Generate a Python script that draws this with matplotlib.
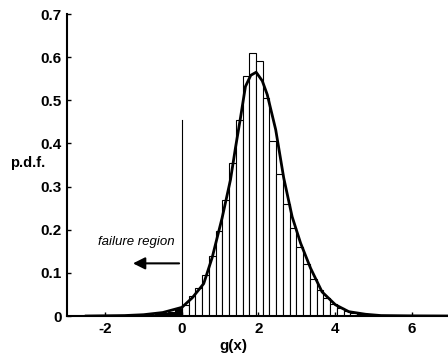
import numpy as np
import matplotlib
matplotlib.use("Agg")
import matplotlib.pyplot as plt

plt.rcParams["font.family"] = ["Liberation Sans", "DejaVu Sans"]
plt.rcParams["axes.unicode_minus"] = False

# histogram: left bin edges (width 0.176) and bar heights
bin_width = 0.176
bin_left = [-2.464, -2.288, -2.112, -1.936, -1.760, -1.584, -1.408, -1.232, -1.056, -0.880,
            -0.704, -0.528, -0.352, -0.176, 0.000, 0.176, 0.352, 0.528, 0.704, 0.880,
            1.056, 1.232, 1.408, 1.584, 1.760, 1.936, 2.112, 2.288, 2.464, 2.640,
            2.816, 2.992, 3.168, 3.344, 3.520, 3.696, 3.872, 4.048, 4.224, 4.400,
            4.576, 4.752, 4.928, 5.104, 5.280, 5.456, 5.632, 5.808, 5.984, 6.160]
bar_height = [0.0, 0.0, 0.0, 0.001, 0.0, 0.001, 0.001, 0.002, 0.002, 0.003,
              0.005, 0.007, 0.010, 0.016, 0.025, 0.046, 0.066, 0.095, 0.140, 0.196,
              0.268, 0.355, 0.455, 0.556, 0.610, 0.592, 0.506, 0.405, 0.330, 0.260,
              0.205, 0.160, 0.120, 0.085, 0.060, 0.042, 0.028, 0.018, 0.011, 0.007,
              0.004, 0.003, 0.002, 0.001, 0.0005, 0.0003, 0.0003, 0.0, 0.0, 0.0]

# fitted p.d.f. curve
curve_x = [-2.5, -2.0, -1.5, -1.0, -0.5, 0.0, 0.27, 0.57, 0.79, 1.05, 1.27, 1.40, 1.53,
           1.66, 1.80, 1.94, 2.10, 2.23, 2.45, 2.66, 2.88, 3.10, 3.36, 3.66, 4.01, 4.36,
           4.80, 5.20, 6.00, 7.00]
curve_y = [0.0, 0.0005, 0.001, 0.003, 0.008, 0.020, 0.042, 0.075, 0.135, 0.227, 0.316,
           0.390, 0.459, 0.532, 0.558, 0.565, 0.545, 0.513, 0.432, 0.320, 0.230, 0.169,
           0.111, 0.056, 0.026, 0.010, 0.004, 0.001, 0.0003, 0.0]

fig = plt.figure(figsize=(4.48, 3.56), dpi=100)
ax = fig.add_axes([67 / 448, 40 / 356, 381 / 448, 302 / 356])

colors = ["black" if x < 0 else "white" for x in bin_left]
ax.bar(bin_left, bar_height, width=bin_width, align="edge",
       color=colors, edgecolor="black", linewidth=0.8)
ax.plot(curve_x, curve_y, color="black", lw=2.0)

# failure region marker
ax.plot([0, 0], [0, 0.455], color="black", lw=0.8)
ax.annotate("", xy=(-1.35, 0.122), xytext=(0, 0.122),
            arrowprops=dict(arrowstyle="-|>", color="black", lw=1.5,
                            mutation_scale=18))
ax.text(-0.18, 0.172, "failure region", style="italic", fontsize=9.5,
        ha="right", va="center")

ax.set_xlim(-3, 6.95)
ax.set_ylim(0, 0.7)
ax.set_xticks([-2, 0, 2, 4, 6])
ax.set_yticks([0, 0.1, 0.2, 0.3, 0.4, 0.5, 0.6, 0.7])
ax.set_yticklabels(["0", "0.1", "0.2", "0.3", "0.4", "0.5", "0.6", "0.7"])
ax.tick_params(direction="in", length=3, width=1, labelsize=11, pad=4)
for lbl in ax.get_xticklabels() + ax.get_yticklabels():
    lbl.set_fontweight("bold")
for side in ["top", "right"]:
    ax.spines[side].set_visible(False)
for side in ["left", "bottom"]:
    ax.spines[side].set_linewidth(1.5)

fig.text(10 / 448, 1 - 163 / 356, "p.d.f.", fontsize=10.5, fontweight="bold",
         ha="left", va="center")
fig.text(233 / 448, 1 - 346 / 356, "g(x)", fontsize=11, fontweight="bold",
         ha="center", va="center")

fig.savefig("out.png", dpi=100)
